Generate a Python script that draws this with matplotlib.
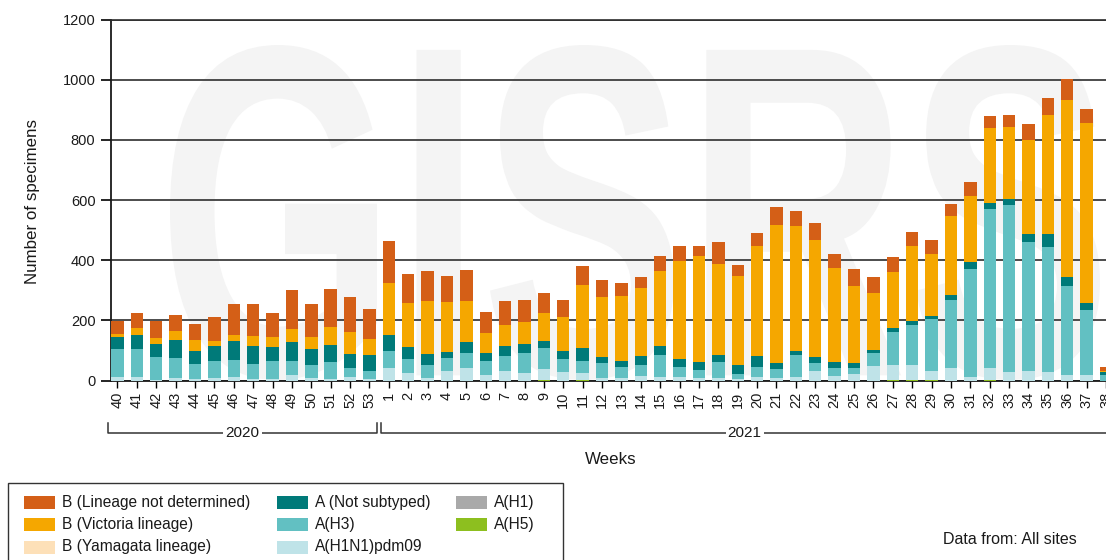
import matplotlib
matplotlib.use("Agg")
import matplotlib.pyplot as plt
import numpy as np
from matplotlib.lines import Line2D
from matplotlib.patches import Rectangle, PathPatch
from matplotlib.textpath import TextPath
from matplotlib.font_manager import FontProperties
from matplotlib.transforms import blended_transform_factory, Affine2D

plt.rcParams['font.family'] = ['Liberation Sans', 'DejaVu Sans']

# Week labels: 2020 weeks 40-53, then 2021 weeks 1-38
weeks = [str(w) for w in range(40, 54)] + [str(w) for w in range(1, 39)]

# Specimen counts per week
a_h1 = [0] * 52
a_h5 = [0] * 14 + [0, 0, 0, 0, 0, 0, 0, 0, 2, 0, 2, 0, 0, 0, 0, 0, 0, 0, 0, 0,
                   0, 0, 0, 0, 0, 0, 2, 2, 2, 0, 0, 2, 0, 0, 0, 0, 0, 0]
a_pdm09 = [10, 12, 3, 7, 5, 9, 11, 5, 5, 18, 8, 5, 12, 5,
           41, 25, 7, 33, 41, 17, 33, 25, 36, 29, 22, 8, 7, 14, 12, 11, 8, 8, 5,
           11, 8, 12, 33, 14, 22, 48, 48, 48, 29, 40, 12, 41, 29, 32, 29, 18, 18, 0]
a_h3 = [96, 94, 76, 68, 51, 55, 56, 51, 59, 47, 44, 55, 29, 28,
        57, 47, 45, 43, 51, 47, 48, 67, 70, 44, 42, 49, 38, 38, 72, 34, 28, 53, 17,
        34, 31, 72, 24, 27, 19, 44, 110, 135, 173, 229, 358, 527, 554, 430, 416, 295, 217, 18]
a_notsub = [38, 45, 43, 61, 41, 52, 63, 58, 49, 64, 52, 57, 47, 51,
            54, 41, 35, 20, 36, 28, 35, 30, 24, 26, 42, 21, 19, 28, 30, 25, 25, 23, 29,
            36, 18, 14, 20, 20, 16, 9, 13, 14, 11, 16, 24, 21, 20, 25, 42, 31, 22, 11]
b_yamagata = [0] * 52
b_victoria = [11, 25, 20, 28, 38, 14, 21, 33, 32, 41, 40, 60, 74, 55,
              172, 144, 178, 166, 137, 67, 67, 72, 91, 111, 211, 199, 218, 227, 251, 326, 354, 304, 298,
              367, 461, 416, 389, 313, 256, 190, 188, 248, 205, 263, 219, 247, 240, 314, 397, 588, 599, 3]
b_notdet = [42, 49, 57, 54, 54, 80, 102, 106, 80, 132, 109, 128, 115, 99,
            141, 98, 99, 85, 102, 70, 81, 75, 67, 59, 62, 56, 42, 38, 49, 50, 31, 74, 34,
            42, 58, 51, 59, 45, 58, 53, 51, 48, 47, 38, 46, 42, 41, 52, 55, 69, 47, 13]

series = [
    ("A(H1)", a_h1, "#a9a9a9"),
    ("A(H5)", a_h5, "#8dbf1f"),
    ("A(H1N1)pdm09", a_pdm09, "#bfe3e8"),
    ("A(H3)", a_h3, "#62c0c2"),
    ("A (Not subtyped)", a_notsub, "#007a79"),
    ("B (Yamagata lineage)", b_yamagata, "#fde0b8"),
    ("B (Victoria lineage)", b_victoria, "#f5a700"),
    ("B (Lineage not determined)", b_notdet, "#d45f17"),
]
colors = {name: c for name, _, c in series}

W, H = 1106, 560
fig = plt.figure(figsize=(W / 100, H / 100), dpi=100)

# faint watermark behind the plot
tp = TextPath((0, 0), "GISRS", size=1, prop=FontProperties(family='Liberation Sans', weight='bold'))
ext = tp.get_extents()
x0, x1, y0, y1 = 170 / W, 1100 / W, 1 - 380 / H, 1 - 45 / H
tr = Affine2D().translate(-ext.x0, -ext.y0).scale((x1 - x0) / ext.width, (y1 - y0) / ext.height).translate(x0, y0)
wm = PathPatch(tr.transform_path(tp), facecolor='#f4f4f4', edgecolor='none',
               transform=fig.transFigure, zorder=-5)
fig.add_artist(wm)

ax = fig.add_axes([110.7 / W, 1 - 380.5 / H, 1 - 110.7 / W, (380.5 - 19.5) / H])
ax.patch.set_visible(False)

x = np.arange(len(weeks))
bottom = np.zeros(len(weeks))
for name, vals, c in series:
    vals = np.array(vals, dtype=float)
    ax.bar(x, vals, width=0.64, bottom=bottom, color=c, linewidth=0, zorder=3)
    bottom += vals

ax.set_xlim(-0.35, 50.98)
ax.set_ylim(0, 1200)
ax.set_yticks(range(0, 1201, 200))
ax.yaxis.grid(True, color='#2e2e2e', linewidth=1.2, zorder=0)
ax.set_axisbelow(True)
ax.set_xticks(x)
ax.set_xticklabels(weeks, rotation=90, fontsize=10.5, color='#1a1a1a')
ax.tick_params(axis='y', labelsize=10.5, labelcolor='#1a1a1a', length=7, width=1.2, pad=4)
ax.tick_params(axis='x', length=5, width=1.0, pad=3)
for s in ['right']:
    ax.spines[s].set_visible(False)
ax.spines['top'].set_color('#2e2e2e')
ax.spines['top'].set_linewidth(1.2)
ax.spines['left'].set_linewidth(1.3)
ax.spines['bottom'].set_linewidth(1.3)
ax.spines['left'].set_color('#1a1a1a')
ax.spines['bottom'].set_color('#1a1a1a')

# year brackets under the week labels
bt = blended_transform_factory(ax.transData, fig.transFigure)
yl, yt = 1 - 433 / H, 1 - 423 / H
for xa, xb, label, xm in [(-0.49, 13.38, "2020", 6.45), (13.59, 52.5, "2021", 32.36)]:
    fig.add_artist(Line2D([xa, xa, xb, xb], [yt, yl, yl, yt], transform=bt,
                          color='#333333', linewidth=1.1, clip_on=False))
    fig.text(xm, yl, label, transform=bt, ha='center', va='center', fontsize=11,
             color='#1a1a1a', bbox=dict(facecolor='white', edgecolor='none', pad=1.5))

fig.text(611 / W, 1 - 459 / H, "Weeks", ha='center', va='center', fontsize=12.2, color='#1a1a1a')
fig.text(33 / W, 1 - 201 / H, "Number of specimens", rotation=90, ha='center', va='center',
         fontsize=12.2, color='#1a1a1a')

# legend box (bottom edge runs off the image)
fig.add_artist(Rectangle((8 / W, -0.05), (563 - 8) / W, (1 - 483 / H) + 0.05,
                         transform=fig.transFigure, facecolor='white', edgecolor='#333333',
                         linewidth=1.0, clip_on=False))
legend_cols = [
    (24, ["B (Lineage not determined)", "B (Victoria lineage)", "B (Yamagata lineage)"]),
    (277, ["A (Not subtyped)", "A(H3)", "A(H1N1)pdm09"]),
    (456, ["A(H1)", "A(H5)"]),
]
rows_y = [502, 524, 547]
for cx, names in legend_cols:
    for name, ry in zip(names, rows_y):
        fig.add_artist(Rectangle((cx / W, 1 - (ry + 6.5) / H), 31 / W, 13 / H,
                                 transform=fig.transFigure, facecolor=colors[name],
                                 edgecolor='none'))
        fig.text((cx + 38) / W, 1 - ry / H, name, ha='left', va='center',
                 fontsize=11.2, color='#1a1a1a')

fig.text(943 / W, 1 - 540 / H, "Data from: All sites", ha='left', va='center',
         fontsize=11.5, color='#1a1a1a')

fig.savefig("out.png", dpi=100)
